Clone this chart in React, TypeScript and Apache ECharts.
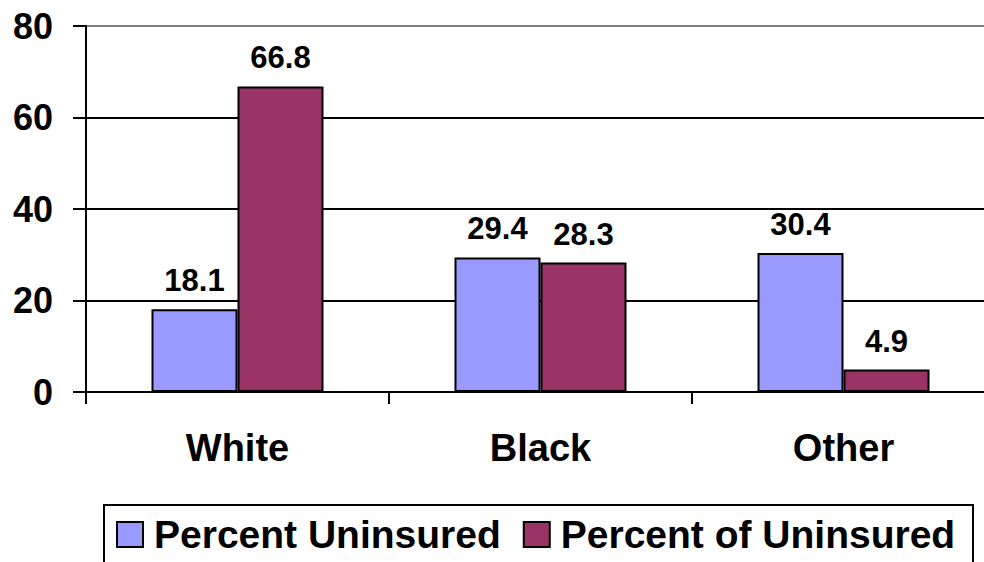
import React, { useEffect, useRef } from "react";
import * as echarts from "echarts";

const categories = ["White", "Black", "Other"];
const percentUninsured = [18.1, 29.4, 30.4];
const percentOfUninsured = [66.8, 28.3, 4.9];
const seriesNames = ["Percent Uninsured", "Percent of Uninsured"];
const yMin = 0;
const yMax = 80;
const yInterval = 20;

const FONT = "'Liberation Sans', Arial, sans-serif";

export default function App() {
  const ref = useRef<HTMLDivElement>(null);
  useEffect(() => {
    if (!ref.current) return;
    const chart = echarts.init(ref.current, null, { renderer: "svg" });
    const label = {
      show: true,
      position: "top",
      distance: 13,
      fontFamily: FONT,
      fontWeight: "bold",
      fontSize: 31,
      color: "#000",
    };
    chart.setOption({
      animation: false,
      backgroundColor: "#fff",
      grid: {
        left: 86,
        top: 26,
        bottom: 170,
        right: -11,
        containLabel: false,
        outerBoundsMode: "none",
      },
      legend: {
        left: 116,
        top: 515,
        padding: 0,
        itemWidth: 26,
        itemHeight: 25,
        itemGap: 22,
        icon: "rect",
        textStyle: {
          fontFamily: FONT,
          fontWeight: "bold",
          fontSize: 39,
          color: "#000",
          padding: [0, 0, 0, 6],
        },
        data: seriesNames,
      },
      graphic: [
        {
          type: "rect",
          shape: { x: 104, y: 505, width: 869, height: 100 },
          style: { fill: "none", stroke: "#000", lineWidth: 2 },
          silent: true,
        },
      ],
      xAxis: {
        type: "category",
        data: categories,
        axisLine: { show: true, lineStyle: { color: "#000", width: 2 } },
        axisTick: {
          show: true,
          alignWithLabel: false,
          length: 12,
          lineStyle: { color: "#000", width: 2 },
        },
        axisLabel: {
          margin: 37,
          fontFamily: FONT,
          fontWeight: "bold",
          fontSize: 38,
          color: "#000",
        },
        splitLine: { show: false },
      },
      yAxis: {
        type: "value",
        min: yMin,
        max: yMax,
        interval: yInterval,
        axisLine: { show: true, lineStyle: { color: "#000", width: 2 } },
        axisTick: {
          show: true,
          inside: false,
          length: 13,
          lineStyle: { color: "#000", width: 2 },
        },
        axisLabel: {
          margin: 33,
          fontFamily: FONT,
          fontWeight: "bold",
          fontSize: 36,
          color: "#000",
        },
        splitLine: {
          show: true,
          lineStyle: {
            color: ["#000", "#000", "#000", "#000", "#808080"],
            width: 2,
          },
        },
      },
      series: [
        {
          name: seriesNames[0],
          type: "bar",
          data: percentUninsured,
          barWidth: 86,
          barGap: "0%",
          itemStyle: { color: "#9999FF", borderColor: "#000", borderWidth: 2 },
          label,
        },
        {
          name: seriesNames[1],
          type: "bar",
          data: percentOfUninsured,
          barWidth: 86,
          barGap: "0%",
          itemStyle: { color: "#993366", borderColor: "#000", borderWidth: 2 },
          label,
        },
      ],
    });
    return () => chart.dispose();
  }, []);
  return (
    <div
      ref={ref}
      style={{
        position: "fixed",
        left: 0,
        top: 0,
        width: 984,
        height: 562,
        background: "#fff",
      }}
    />
  );
}
